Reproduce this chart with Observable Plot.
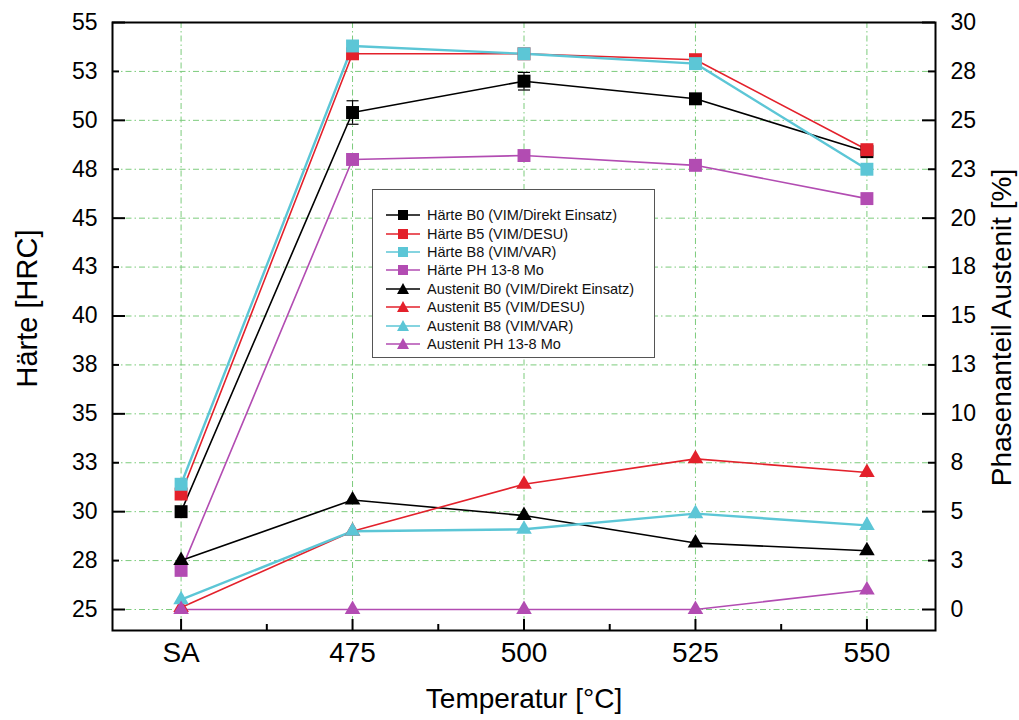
<!DOCTYPE html>
<html><head><meta charset="utf-8">
<script src="https://cdn.jsdelivr.net/npm/d3@7"></script>
<script src="https://cdn.jsdelivr.net/npm/@observablehq/plot@0.6"></script>
<style>
body{margin:0;background:#fff;font-family:"Liberation Sans",Arial,sans-serif}
#wrap{position:relative;width:1019px;height:720px;overflow:hidden}
#legend{position:absolute;left:372px;top:189px;width:283px;height:169px;border:1px solid #555;background:#fff;box-sizing:border-box;padding-top:16px}
.row{height:18.4px;display:flex;align-items:center;font-size:14.5px;padding-left:12px;color:#111;white-space:nowrap}
.row svg{margin-right:4px}
</style></head><body><div id="wrap"></div>
<script>
// ---- data ----
const temperatures = ["SA", "475", "500", "525", "550"];
const seriesNames = ["B0 (VIM/Direkt Einsatz)", "B5 (VIM/DESU)", "B8 (VIM/VAR)", "PH 13-8 Mo"];
const seriesColors = ["#000000", "#e3212b", "#5cc6d6", "#b24cb2"];
const haerteB0 = [30.0, 50.4, 52.0, 51.1, 48.4];
const haerteB0Err = [0, 0.6, 0.45, 0, 0];
const haerteB5 = [30.9, 53.4, 53.4, 53.1, 48.5];
const haerteB8 = [31.4, 53.8, 53.4, 52.9, 47.5];
const haertePH = [27.0, 48.0, 48.2, 47.7, 46.0];
const austenitB0 = [2.5, 5.6, 4.8, 3.4, 3.0];
const austenitB5 = [0.1, 4.0, 6.4, 7.7, 7.0];
const austenitB8 = [0.5, 4.0, 4.1, 4.9, 4.3];
const austenitPH = [0, 0, 0, 0, 1.0];
const hardnessTicks = [25, 27.5, 30, 32.5, 35, 37.5, 40, 42.5, 45, 47.5, 50, 52.5, 55];
const hardnessTickLabels = ["25", "28", "30", "33", "35", "38", "40", "43", "45", "48", "50", "53", "55"];
const austeniteTicks = [0, 2.5, 5, 7.5, 10, 12.5, 15, 17.5, 20, 22.5, 25, 27.5, 30];
const austeniteTickLabels = ["0", "3", "5", "8", "10", "13", "15", "18", "20", "23", "25", "28", "30"];

// right axis (0..30 %) shares the left scale (25..55 HRC)
const OFFSET = 25;
const haerte = [haerteB0, haerteB5, haerteB8, haertePH];
const austenit = [austenitB0, austenitB5, austenitB8, austenitPH];
const xIdx = d3.range(temperatures.length);

const gridColor = "#7ccb7c";
const hLabel = new Map(hardnessTicks.map((t, i) => [t, hardnessTickLabels[i]]));
const aLabel = new Map(austeniteTicks.map((t, i) => [t + OFFSET, austeniteTickLabels[i]]));

const capSymbol = {draw(ctx, size) { const r = Math.sqrt(size / Math.PI); ctx.moveTo(-r, 0); ctx.lineTo(r, 0); }};

const marks = [];
// grid
marks.push(Plot.ruleY(hardnessTicks.slice(0, -1), {stroke: gridColor, strokeWidth: 1, strokeDasharray: "6,3,1.5,3"}));
marks.push(Plot.ruleX(xIdx, {stroke: gridColor, strokeWidth: 1, strokeDasharray: "6,3,1.5,3"}));
// inward ticks
const major = hardnessTicks.filter(t => t % 5 === 0);
const minor = hardnessTicks.filter(t => t % 5 !== 0);
const PW = 1019 - 112 - 84, PH = 720 - 22 - 90;
marks.push(Plot.tickY(major, {y: d => d, stroke: "#000", strokeWidth: 2, insetRight: PW - 13}));
marks.push(Plot.tickY(minor, {y: d => d, stroke: "#000", strokeWidth: 2, insetRight: PW - 7}));
marks.push(Plot.tickY(major, {y: d => d, stroke: "#000", strokeWidth: 2, insetLeft: PW - 13}));
marks.push(Plot.tickY(minor, {y: d => d, stroke: "#000", strokeWidth: 2, insetLeft: PW - 7}));
marks.push(Plot.tickX(xIdx, {x: d => d, stroke: "#000", strokeWidth: 2, insetTop: PH - 11}));
marks.push(Plot.tickX(xIdx.slice(0, -1).map(i => i + 0.5), {x: d => d, stroke: "#000", strokeWidth: 2, insetTop: PH - 6}));

// hardness series
haerte.forEach((vals, s) => {
  const data = vals.map((v, i) => ({x: i, y: v}));
  marks.push(Plot.line(data, {x: "x", y: "y", stroke: seriesColors[s], strokeWidth: s === 2 ? 2.4 : 1.6}));
});
// error bars B0
const err = haerteB0.map((v, i) => ({x: i, y1: v - haerteB0Err[i], y2: v + haerteB0Err[i]})).filter((d, i) => haerteB0Err[i] > 0);
marks.push(Plot.ruleX(err, {x: "x", y1: "y1", y2: "y2", stroke: "#000", strokeWidth: 1.2}));
marks.push(Plot.dot(err, {x: "x", y: "y1", symbol: capSymbol, r: 6, stroke: "#000", strokeWidth: 1.2}));
marks.push(Plot.dot(err, {x: "x", y: "y2", symbol: capSymbol, r: 6, stroke: "#000", strokeWidth: 1.2}));
haerte.forEach((vals, s) => {
  const data = vals.map((v, i) => ({x: i, y: v}));
  marks.push(Plot.dot(data, {x: "x", y: "y", symbol: "square", r: 7.3, fill: seriesColors[s], stroke: "none"}));
});
// austenite series
austenit.forEach((vals, s) => {
  const data = vals.map((v, i) => ({x: i, y: v + OFFSET}));
  marks.push(Plot.line(data, {x: "x", y: "y", stroke: seriesColors[s], strokeWidth: s === 2 ? 2.4 : 1.6}));
});
austenit.forEach((vals, s) => {
  const data = vals.map((v, i) => ({x: i, y: v + OFFSET}));
  marks.push(Plot.dot(data, {x: "x", y: "y", symbol: "triangle", r: 5.8, fill: seriesColors[s], stroke: "none"}));
});

// axes
marks.push(Plot.axisY(hardnessTicks, {anchor: "left", tickSize: 0, tickPadding: 15, tickFormat: d => hLabel.get(d), fontSize: 23, label: null}));
marks.push(Plot.axisY(austeniteTicks.map(t => t + OFFSET), {anchor: "right", tickSize: 0, tickPadding: 15, tickFormat: d => aLabel.get(d), fontSize: 23, label: null}));
marks.push(Plot.axisX(xIdx, {anchor: "bottom", tickSize: 0, tickPadding: 12, tickFormat: i => temperatures[i], fontSize: 28, label: null}));
marks.push(Plot.frame({stroke: "#000", strokeWidth: 2}));
// axis titles
marks.push(Plot.text(["Härte [HRC]"], {frameAnchor: "left", textAnchor: "middle", dx: -85, dy: -18, rotate: -90, fontSize: 29, fill: "#000"}));
marks.push(Plot.text(["Phasenanteil Austenit [%]"], {frameAnchor: "right", textAnchor: "middle", dx: 67, dy: 1, rotate: -90, fontSize: 28, fill: "#000"}));
marks.push(Plot.text(["Temperatur [°C]"], {frameAnchor: "bottom", textAnchor: "middle", dx: 0, dy: 77, fontSize: 28, fill: "#000"}));

const chart = Plot.plot({
  width: 1019, height: 720,
  marginLeft: 112, marginRight: 84, marginTop: 22, marginBottom: 90,
  x: {type: "linear", domain: [-0.4, 4.4], axis: null},
  y: {type: "linear", domain: [25 - 21 / 19.57, 55], axis: null},
  style: {fontFamily: "'Liberation Sans', Arial, sans-serif", color: "#000", background: "#fff", overflow: "visible"},
  marks
});
const wrap = document.getElementById("wrap");
wrap.appendChild(chart);

// legend
const legend = document.createElement("div");
legend.id = "legend";
const entries = [];
seriesNames.forEach((n, s) => entries.push({label: "Härte " + n, color: seriesColors[s], sym: "square"}));
seriesNames.forEach((n, s) => entries.push({label: "Austenit " + n, color: seriesColors[s], sym: "triangle"}));
entries.forEach(e => {
  const row = document.createElement("div");
  row.className = "row";
  const shape = e.sym === "square"
    ? `<rect x="13" y="4" width="10" height="10" fill="${e.color}"/>`
    : `<path d="M18,3 L24,14 L12,14 Z" fill="${e.color}"/>`;
  row.innerHTML = `<svg width="38" height="18"><line x1="1" x2="35" y1="9" y2="9" stroke="${e.color}" stroke-width="1.5"/>${shape}</svg><span>${e.label}</span>`;
  legend.appendChild(row);
});
wrap.appendChild(legend);
</script></body></html>
